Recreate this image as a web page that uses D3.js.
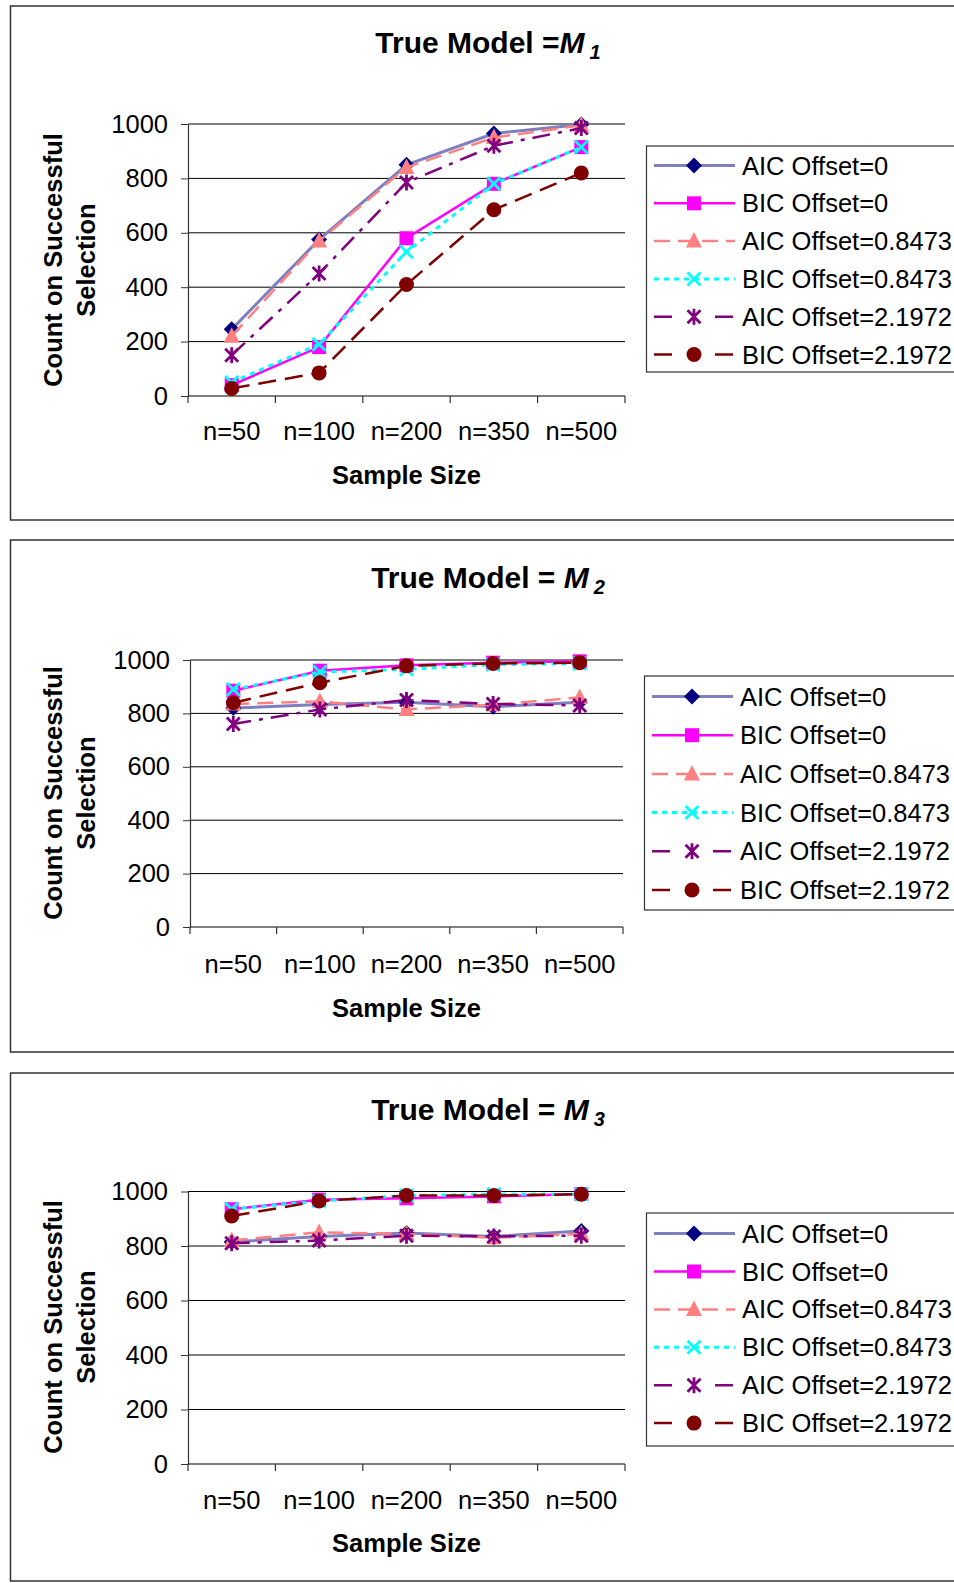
<!DOCTYPE html>
<html><head><meta charset="utf-8">
<script src="https://cdn.jsdelivr.net/npm/d3@7"></script>
<style>body{margin:0;background:#fff}svg{display:block}text{font-family:"Liberation Sans",Arial,sans-serif}</style>
</head><body><svg id="c" width="954" height="1583"></svg>
<script>
const categories = ["n=50","n=100","n=200","n=350","n=500"];
const seriesNames = ["AIC Offset=0","BIC Offset=0","AIC Offset=0.8473","BIC Offset=0.8473","AIC Offset=2.1972","BIC Offset=2.1972"];
const yTicks = [0,200,400,600,800,1000];
const titles = [["True Model =","M","1"],["True Model = ","M","2"],["True Model = ","M","3"]];
const yLabelLines = ["Count on Successful","Selection"];
const xLabel = "Sample Size";

// Panel 1: true model M1
const m1_aic0   = [245, 575, 850, 965, 998];
const m1_bic0   = [40, 180, 580, 780, 915];
const m1_aic08  = [220, 570, 840, 950, 995];
const m1_bic08  = [50, 190, 530, 780, 915];
const m1_aic21  = [150, 450, 785, 920, 985];
const m1_bic21  = [28, 85, 410, 685, 820];
// Panel 2: true model M2
const m2_aic0   = [820, 833, 842, 825, 842];
const m2_bic0   = [885, 960, 980, 990, 995];
const m2_aic08  = [835, 845, 815, 832, 860];
const m2_bic08  = [890, 955, 965, 983, 987];
const m2_aic21  = [760, 815, 850, 835, 830];
const m2_bic21  = [840, 915, 978, 987, 990];
// Panel 3: true model M3
const m3_aic0   = [815, 835, 848, 835, 855];
const m3_bic0   = [935, 970, 975, 982, 991];
const m3_aic08  = [820, 850, 845, 830, 845];
const m3_bic08  = [935, 965, 985, 990, 990];
const m3_aic21  = [810, 820, 838, 835, 838];
const m3_bic21  = [910, 965, 985, 985, 990];

const panelData = [
  [m1_aic0,m1_bic0,m1_aic08,m1_bic08,m1_aic21,m1_bic21],
  [m2_aic0,m2_bic0,m2_aic08,m2_bic08,m2_aic21,m2_bic21],
  [m3_aic0,m3_bic0,m3_aic08,m3_bic08,m3_aic21,m3_bic21]
];

const styles = [
  {line:"#7F7FBF", width:3,   dash:null,        legDash:null,        marker:"diamond", fill:"#000080"},
  {line:"#FF00FF", width:2.5, dash:null,        legDash:null,        marker:"square",  fill:"#FF00FF"},
  {line:"#FF8080", width:2.5, dash:"16,8",      legDash:"16,8",      marker:"triangle",fill:"#FF8080"},
  {line:"#00FFFF", width:3,   dash:"5,5",       legDash:"5,5",       marker:"x",       fill:"#00FFFF"},
  {line:"#800080", width:2.5, dash:"18,8,4,8",  legDash:"18,43,18",  marker:"star",    fill:"#800080"},
  {line:"#800000", width:2.5, dash:"18,9",      legDash:"18,43,18",  marker:"circle",  fill:"#800000"}
];

const FS = 25.5;
const layouts = [
  {top:6,   bottom:520,  yTop:124,   yBot:396,  xL:188, xR:625, titleY:53,   legX:646, legY:146,  legH:226, rowY:165.5, rowStep:37.8, tickY:440, xTitleY:484,  yMid:260},
  {top:540, bottom:1052, yTop:660,   yBot:927,  xL:190, xR:623, titleY:588,  legX:644, legY:676,  legH:234, rowY:696.5, rowStep:38.7, tickY:973, xTitleY:1017, yMid:793},
  {top:1073,bottom:1581, yTop:1191.5,yBot:1464, xL:188, xR:625, titleY:1120, legX:646, legY:1213, legH:233, rowY:1233.6,rowStep:37.9, tickY:1509,xTitleY:1552, yMid:1327}
];

const svg = d3.select("#c");

function drawMarker(g, type, x, y, color){
  const s = 8;
  if(type==="diamond"){
    g.append("path").attr("d",`M${x},${y-s}L${x+s},${y}L${x},${y+s}L${x-s},${y}Z`).attr("fill",color);
  } else if(type==="square"){
    g.append("rect").attr("x",x-7).attr("y",y-7).attr("width",14).attr("height",14).attr("fill",color);
  } else if(type==="triangle"){
    g.append("path").attr("d",`M${x},${y-9}L${x+8},${y+6.5}L${x-8},${y+6.5}Z`).attr("fill",color);
  } else if(type==="circle"){
    g.append("circle").attr("cx",x).attr("cy",y).attr("r",7.5).attr("fill",color);
  } else if(type==="x"){
    g.append("path").attr("d",`M${x-6.5},${y-6.5}L${x+6.5},${y+6.5}M${x+6.5},${y-6.5}L${x-6.5},${y+6.5}`).attr("stroke",color).attr("stroke-width",2.8).attr("fill","none");
  } else if(type==="star"){
    g.append("path").attr("d",`M${x-6.5},${y-6.5}L${x+6.5},${y+6.5}M${x+6.5},${y-6.5}L${x-6.5},${y+6.5}M${x},${y-8}L${x},${y+8}`).attr("stroke",color).attr("stroke-width",2.8).attr("fill","none");
  }
}

layouts.forEach((L, pi) => {
  const g = svg.append("g");
  g.append("rect").attr("x",10.5).attr("y",L.top).attr("width",960).attr("height",L.bottom-L.top)
    .attr("fill","none").attr("stroke","#333").attr("stroke-width",1.5);

  const x = d3.scaleBand().domain(categories).range([L.xL, L.xR]);
  const y = d3.scaleLinear().domain([0,1000]).range([L.yBot, L.yTop]);

  g.append("g").selectAll("line").data(yTicks.filter(d=>d>0)).join("line")
    .attr("x1",L.xL).attr("x2",L.xR).attr("y1",d=>y(d)).attr("y2",d=>y(d))
    .attr("stroke","#000").attr("stroke-width",1);

  const ya = g.append("g").attr("transform",`translate(${L.xL},0)`)
    .call(d3.axisLeft(y).tickValues(yTicks).tickFormat(d3.format("d")).tickSize(7).tickPadding(13).tickSizeOuter(0));
  ya.select(".domain").attr("stroke","#333").attr("stroke-width",1.2);
  ya.selectAll(".tick line").attr("stroke","#333");
  ya.selectAll("text").attr("font-size",FS).attr("fill","#000").attr("font-family","Liberation Sans, Arial, sans-serif");

  g.append("line").attr("x1",L.xL).attr("x2",L.xR).attr("y1",L.yBot).attr("y2",L.yBot).attr("stroke","#000").attr("stroke-width",1.2);
  const bounds = categories.map(c=>x(c)).concat([L.xR]);
  g.append("g").selectAll("line").data(bounds).join("line")
    .attr("x1",d=>d).attr("x2",d=>d).attr("y1",L.yBot).attr("y2",L.yBot+7).attr("stroke","#333").attr("stroke-width",1.2);
  g.append("g").selectAll("text").data(categories).join("text")
    .attr("x",d=>x(d)+x.bandwidth()/2).attr("y",L.tickY).attr("text-anchor","middle")
    .attr("font-size",FS).attr("fill","#000").text(d=>d);

  g.append("text").attr("x",(L.xL+L.xR)/2).attr("y",L.xTitleY).attr("text-anchor","middle")
    .attr("font-size",FS).attr("font-weight","bold").text(xLabel);
  const yl = g.append("text").attr("transform",`translate(0,${L.yMid}) rotate(-90)`).attr("text-anchor","middle")
    .attr("font-size",FS).attr("font-weight","bold");
  yl.append("tspan").attr("x",0).attr("y",62).text(yLabelLines[0]);
  yl.append("tspan").attr("x",0).attr("y",95).text(yLabelLines[1]);

  const t = g.append("text").attr("x",488).attr("y",L.titleY).attr("text-anchor","middle")
    .attr("font-size",30).attr("font-weight","bold");
  t.append("tspan").text(titles[pi][0]);
  t.append("tspan").attr("font-style","italic").text(titles[pi][1]);
  t.append("tspan").attr("font-style","italic").attr("font-size",20).attr("dx",5).attr("dy",6).text(titles[pi][2]);

  const line = d3.line().x((d,i)=>x(categories[i])+x.bandwidth()/2).y(d=>y(d));
  panelData[pi].forEach((vals, si) => {
    const st = styles[si];
    const sg = g.append("g");
    sg.append("path").attr("d",line(vals)).attr("fill","none").attr("stroke",st.line)
      .attr("stroke-width",st.width).attr("stroke-dasharray",st.dash);
    vals.forEach((v,i)=>drawMarker(sg, st.marker, x(categories[i])+x.bandwidth()/2, y(v), st.fill));
  });

  const lg = g.append("g");
  lg.append("rect").attr("x",L.legX+0.5).attr("y",L.legY).attr("width",400).attr("height",L.legH)
    .attr("fill","#fff").attr("stroke","#333").attr("stroke-width",1.2);
  seriesNames.forEach((name, si) => {
    const st = styles[si];
    const ry = L.rowY + si*L.rowStep;
    lg.append("line").attr("x1",L.legX+8).attr("x2",L.legX+89).attr("y1",ry).attr("y2",ry)
      .attr("stroke",st.line).attr("stroke-width",st.width).attr("stroke-dasharray",st.legDash);
    drawMarker(lg, st.marker, L.legX+48, ry, st.fill);
    lg.append("text").attr("x",L.legX+96).attr("y",ry+9).attr("font-size",FS).text(name);
  });
});
</script>
</body></html>
